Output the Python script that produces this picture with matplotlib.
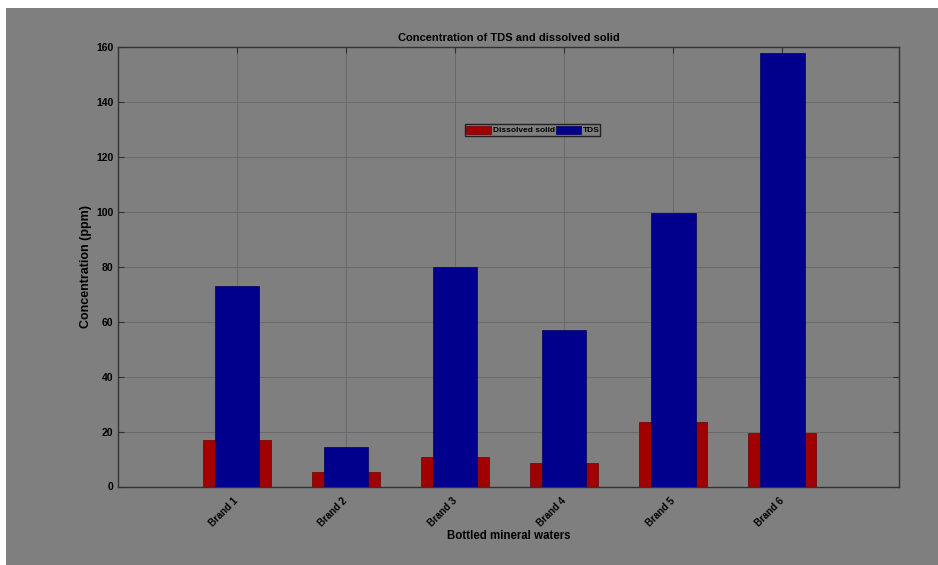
import numpy as np
import matplotlib.pyplot as plt
from matplotlib.patches import Rectangle

# Datos
brands = ['Brand 1', 'Brand 2', 'Brand 3', 'Brand 4', 'Brand 5', 'Brand 6']
dissolved = [17, 5.2, 10.6, 8.5, 23.6, 19.6]
tds = [73, 14.4, 80, 57, 99.6, 157.8]
y_ticks = [0, 20, 40, 60, 80, 100, 120, 140, 160]

plt.rcParams['font.family'] = ['Liberation Sans', 'DejaVu Sans']
plt.rcParams['font.weight'] = 'bold'

bg = '#7f7f7f'
fig = plt.figure(figsize=(9.38, 5.65), dpi=100, facecolor=bg)
# borde blanco de la captura (arriba e izquierda)
fig.patches.append(Rectangle((0, 1 - 8 / 565), 1, 8 / 565, transform=fig.transFigure,
                             facecolor='white', edgecolor='none', zorder=-1))
fig.patches.append(Rectangle((0, 0), 6 / 938, 1, transform=fig.transFigure,
                             facecolor='white', edgecolor='none', zorder=-1))

ax = fig.add_axes([118 / 938, 78.5 / 565, 781 / 938, 439.5 / 565])
ax.set_facecolor(bg)

x = np.arange(1, len(brands) + 1)
ax.bar(x, dissolved, width=0.62, color='#a00000', edgecolor='#700000', linewidth=0.5,
       label='Dissolved solid', zorder=2)
ax.bar(x, tds, width=0.41, color='#00008c', edgecolor='#000060', linewidth=0.5,
       label='TDS', zorder=3)

ax.set_xlim(-0.09, 7.07)
ax.set_ylim(0, 160)
ax.set_yticks(y_ticks)
ax.set_xticks(x)
ax.set_xticklabels(brands, rotation=45, ha='right', va='center', rotation_mode='anchor',
                   fontsize=7, fontweight='bold')
ax.tick_params(axis='x', pad=9)
ax.tick_params(axis='y', labelsize=7.5)
ax.tick_params(direction='in', top=True, right=True, length=4, width=0.8, color='#303030')
for lab in ax.get_yticklabels():
    lab.set_fontweight('bold')

ax.grid(True, color='#6a6a6a', linewidth=0.7, zorder=0)
ax.set_axisbelow(True)
for s in ax.spines.values():
    s.set_color('#333333')
    s.set_linewidth(1.0)

ax.set_title('Concentration of TDS and dissolved solid', fontsize=8, fontweight='bold', pad=4)
ax.set_xlabel('Bottled mineral waters', fontsize=8.3, fontweight='bold')
ax.set_ylabel('Concentration (ppm)', fontsize=9, fontweight='bold')
ax.xaxis.set_label_coords(0.5, -0.099)
ax.yaxis.set_label_coords(-0.033, 0.5)

leg = ax.legend(ncol=2, loc='center', bbox_to_anchor=(0.531, 0.811), fontsize=6,
                frameon=True, fancybox=False, handlelength=3.0, handleheight=1.1,
                columnspacing=0.1, handletextpad=0.2, borderpad=0.15, borderaxespad=0)
leg.get_frame().set_facecolor(bg)
leg.get_frame().set_edgecolor('#222222')
leg.get_frame().set_alpha(1)
for t in leg.get_texts():
    t.set_fontweight('bold')

fig.savefig('out.png', dpi=100, facecolor=bg)
